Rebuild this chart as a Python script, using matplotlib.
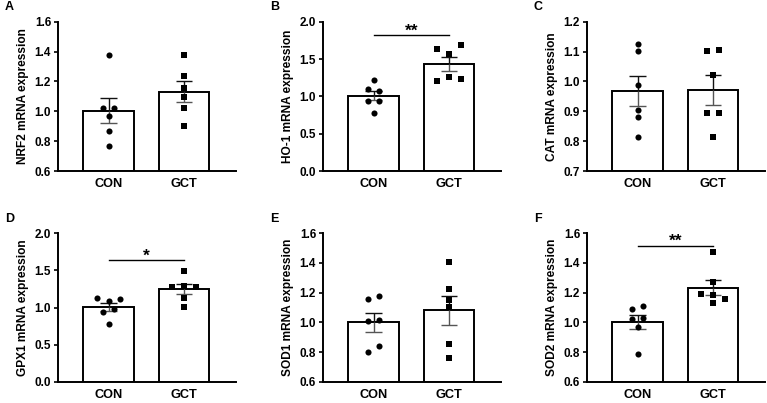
import numpy as np
import matplotlib
matplotlib.use("Agg")
import matplotlib.pyplot as plt

plt.rcParams['font.family'] = ['Liberation Sans', 'DejaVu Sans']

# ---------------- data ----------------
categories = ["CON", "GCT"]
panel_letters = ["A", "B", "C", "D", "E", "F"]
genes = ["NRF2", "HO-1", "CAT", "GPX1", "SOD1", "SOD2"]

nrf2_con = [1.377, 1.020, 1.020, 0.968, 0.868, 0.770]
nrf2_gct = [1.377, 1.236, 1.154, 1.098, 1.024, 0.904]
ho1_con = [1.219, 1.095, 1.072, 0.942, 0.942, 0.777]
ho1_gct = [1.638, 1.571, 1.684, 1.206, 1.259, 1.237]
cat_con = [1.125, 1.101, 0.988, 0.904, 0.881, 0.813]
cat_gct = [1.101, 1.105, 1.023, 0.895, 0.893, 0.815]
gpx1_con = [1.124, 1.088, 1.110, 0.943, 0.976, 0.778]
gpx1_gct = [1.496, 1.272, 1.290, 1.272, 1.124, 1.011]
sod1_con = [1.157, 1.180, 1.009, 1.016, 0.802, 0.838]
sod1_gct = [1.405, 1.223, 1.151, 1.101, 0.852, 0.762]
sod2_con = [1.088, 1.110, 1.020, 1.031, 0.967, 0.787]
sod2_gct = [1.474, 1.270, 1.191, 1.184, 1.155, 1.128]

y_limits = [(0.6, 1.6), (0.0, 2.0), (0.7, 1.2), (0.0, 2.0), (0.6, 1.6), (0.6, 1.6)]
y_steps = [0.2, 0.5, 0.1, 0.5, 0.2, 0.2]

# significance annotations: (panel index, stars, bar height)
sig_panels = [1, 3, 5]
sig_labels = ["**", "*", "**"]
sig_heights = [1.82, 1.64, 1.516]

con_sets = [nrf2_con, ho1_con, cat_con, gpx1_con, sod1_con, sod2_con]
gct_sets = [nrf2_gct, ho1_gct, cat_gct, gpx1_gct, sod1_gct, sod2_gct]

# ---------------- layout ----------------
W, H = 767, 403
fig = plt.figure(figsize=(W / 100, H / 100), dpi=100)
col_left = [58, 323, 587]
ax_w = 178
rows = [(21.7, 171.0), (233.3, 381.7)]
XLIM = (-0.67, 1.69)
BAR_W = 0.667
STEP = 0.156  # horizontal spread of overlapping points (data units)
THR_PX = 6.0


def swarm_offsets(vals, px_per_unit, max_per_row=3):
    vals = np.asarray(vals, dtype=float)
    order = np.argsort(-vals, kind="stable")
    offs = np.zeros(len(vals))
    groups = []
    cur = [order[0]]
    for idx in order[1:]:
        prev = cur[-1]
        if (vals[prev] - vals[idx]) * px_per_unit < THR_PX and len(cur) < max_per_row:
            cur.append(idx)
        else:
            groups.append(cur)
            cur = [idx]
    groups.append(cur)
    for g in groups:
        g = sorted(g)
        n = len(g)
        for k, i in enumerate(g):
            offs[i] = (k - (n - 1) / 2) * STEP
    return offs


for p in range(6):
    r, c = divmod(p, 3)
    top_px, bot_px = rows[r]
    left = col_left[c]
    ax = fig.add_axes([left / W, 1 - bot_px / H, ax_w / W, (bot_px - top_px) / H])
    ymin, ymax = y_limits[p]
    ax.set_xlim(*XLIM)
    ax.set_ylim(ymin, ymax)
    px_per_unit = (bot_px - top_px) / (ymax - ymin)

    for gi, (vals, marker, ms) in enumerate([(con_sets[p], 'o', 4.4), (gct_sets[p], 's', 4.1)]):
        v = np.asarray(vals)
        mean = v.mean()
        sem = v.std(ddof=1) / np.sqrt(len(v))
        ax.bar(gi, mean - ymin, bottom=ymin, width=BAR_W, color='white',
               edgecolor='black', linewidth=1.4, zorder=1)
        cap = 0.11
        ax.vlines(gi, mean, mean + sem, color='#111111', lw=1.0, zorder=2)
        ax.hlines(mean + sem, gi - cap, gi + cap, color='#111111', lw=1.0, zorder=2)
        ax.vlines(gi, mean - sem, mean, color='#555555', lw=1.0, zorder=2)
        ax.hlines(mean - sem, gi - cap, gi + cap, color='#555555', lw=1.0, zorder=2)
        offs = swarm_offsets(v, px_per_unit)
        ax.plot(gi + offs, v, linestyle='none', marker=marker, markersize=ms,
                color='black', markeredgewidth=0, zorder=3, clip_on=False)

    ax.set_yticks(np.round(np.arange(ymin, ymax + 1e-9, y_steps[p]), 2))
    ax.set_yticklabels([f"{t:.1f}" for t in ax.get_yticks()])
    ax.set_xticks([0, 1])
    ax.set_xticklabels(categories)
    for sp in ['top', 'right']:
        ax.spines[sp].set_visible(False)
    for sp in ['left', 'bottom']:
        ax.spines[sp].set_linewidth(1.4)
    ax.tick_params(axis='y', length=3, width=1.2, pad=2, labelsize=8.5)
    ax.tick_params(axis='x', length=0, pad=5, labelsize=9.2)
    for lab in ax.get_xticklabels() + ax.get_yticklabels():
        lab.set_fontweight('bold')
    ax.set_ylabel(f"{genes[p]} mRNA expression", fontsize=8.6, fontweight='bold')
    ax.yaxis.set_label_coords(-0.165, 0.5)

    fig.text((left - 53) / W, 1 - (top_px - 14.5) / H, panel_letters[p],
             fontsize=9, fontweight='bold', ha='left', va='center')

    if p in sig_panels:
        k = sig_panels.index(p)
        h = sig_heights[k]
        ax.plot([0, 1], [h, h], color='black', lw=1.0, clip_on=False)
        ax.text(0.5, h - 0.5 / px_per_unit, sig_labels[k], ha='center', va='baseline',
                fontsize=12.5, fontweight='bold')

fig.savefig("out.png", dpi=100)
